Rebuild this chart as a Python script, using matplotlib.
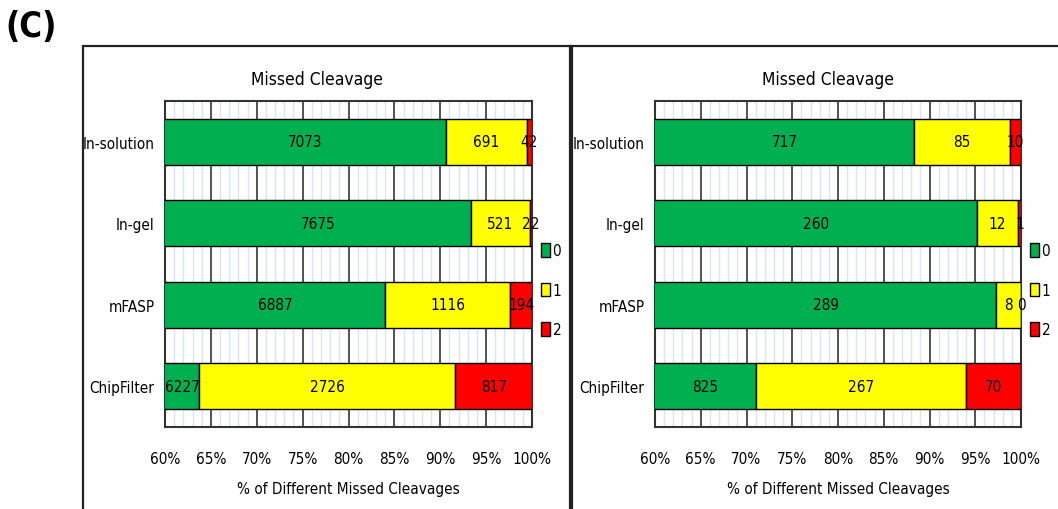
import matplotlib
matplotlib.use("Agg")
import matplotlib.pyplot as plt
from matplotlib.patches import Patch, Rectangle
from matplotlib.ticker import MultipleLocator, PercentFormatter
import numpy as np

plt.rcParams['font.family'] = ['DejaVu Sans']
plt.rcParams['font.stretch'] = 'condensed'

methods = ["In-solution", "In-gel", "mFASP", "ChipFilter"]
cleavage_labels = ["0", "1", "2"]
colors = ["#00B050", "#FFFF00", "#FF0000"]

# counts of peptides with 0 / 1 / 2 missed cleavages
left_counts = [
    [7073, 7675, 6887, 6227],
    [691, 521, 1116, 2726],
    [42, 22, 194, 817],
]
right_counts = [
    [717, 260, 289, 825],
    [85, 12, 8, 267],
    [10, 1, 0, 70],
]

XMIN, XMAX = 60, 100
FS = 11


def draw_panel(ax, counts):
    counts = np.array(counts, dtype=float)
    totals = counts.sum(axis=0)
    pct = counts / totals * 100
    y = np.arange(len(methods))
    left = np.zeros(len(methods))
    for i in range(len(counts)):
        ax.barh(y, pct[i], left=left, height=0.56, color=colors[i],
                edgecolor="black", linewidth=1.0, zorder=3)
        for j in range(len(methods)):
            # centre label on the visible part of the segment
            a = max(left[j], XMIN)
            b = min(left[j] + pct[i][j], XMAX)
            ax.text((a + b) / 2, y[j], f"{int(counts[i][j])}",
                    ha="center", va="center", fontsize=FS, zorder=4)
        left = left + pct[i]

    ax.set_xlim(XMIN, XMAX)
    ax.set_ylim(3.5, -0.5)
    ax.set_yticks(y)
    ax.set_yticklabels(methods, fontsize=FS)
    ax.xaxis.set_major_locator(MultipleLocator(5))
    ax.xaxis.set_minor_locator(MultipleLocator(1))
    ax.xaxis.set_major_formatter(PercentFormatter(decimals=0))
    ax.tick_params(axis="y", length=0, labelsize=FS, pad=7.5)
    ax.tick_params(axis="x", length=0, labelsize=FS, pad=17)
    ax.tick_params(axis="x", which="minor", length=0)
    ax.grid(axis="x", which="minor", color="#dce3f2", linewidth=1.0, zorder=0)
    ax.grid(axis="x", which="major", color="#444444", linewidth=1.3, zorder=1)
    ax.set_xlabel("% of Different Missed Cleavages", fontsize=FS, labelpad=11)
    for s in ax.spines.values():
        s.set_color("#333333")
        s.set_linewidth(1.5)

    handles = [Patch(facecolor=c, edgecolor="black", label=l)
               for c, l in zip(colors, cleavage_labels)]
    ax.legend(handles=handles, loc="center left", bbox_to_anchor=(1.0, 0.42),
              frameon=False, handlelength=0.55, handleheight=1.0,
              handletextpad=0.2, labelspacing=1.6, fontsize=FS,
              borderaxespad=0.2)


fig = plt.figure(figsize=(10.58, 5.10), dpi=100)

# panel frames
fig.patches.append(Rectangle((83 / 1058, -0.01), (570 - 83) / 1058, 1 - 47 / 510 + 0.01,
                             transform=fig.transFigure, fill=False,
                             edgecolor="#222222", linewidth=1.6))
fig.patches.append(Rectangle((572 / 1058, -0.01), 0.5, 1 - 47 / 510 + 0.01,
                             transform=fig.transFigure, fill=False,
                             edgecolor="#222222", linewidth=1.6))

ax1 = fig.add_axes([165 / 1058, 1 - 428 / 510, 367 / 1058, 326 / 510])
ax2 = fig.add_axes([655 / 1058, 1 - 428 / 510, 366 / 1058, 326 / 510])
draw_panel(ax1, left_counts)
draw_panel(ax2, right_counts)

fig.text(317 / 1058, 1 - 80 / 510, "Missed Cleavage", ha="center", va="center",
         fontsize=12.5)
fig.text(828 / 1058, 1 - 80 / 510, "Missed Cleavage", ha="center", va="center",
         fontsize=12.5)
fig.text(5 / 1058, 1 - 27 / 510, "(C)", ha="left", va="center",
         fontsize=25, fontweight="bold")

fig.savefig("out.png", dpi=100)
